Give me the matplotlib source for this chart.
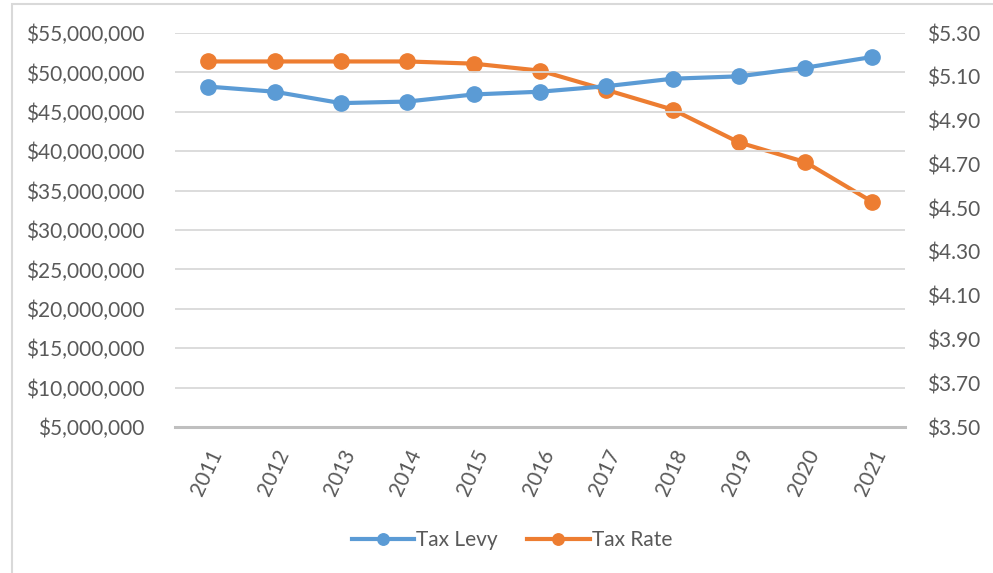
import matplotlib.pyplot as plt
from matplotlib.patches import Rectangle
from matplotlib.ticker import FuncFormatter

plt.rcParams['font.family'] = ['Lato', 'DejaVu Sans']

years = ['2011', '2012', '2013', '2014', '2015', '2016', '2017', '2018', '2019', '2020', '2021']
tax_levy = [48.2e6, 47.55e6, 46.1e6, 46.3e6, 47.2e6, 47.55e6, 48.25e6, 49.2e6, 49.5e6, 50.6e6, 51.95e6]
tax_rate = [5.17, 5.17, 5.17, 5.17, 5.16, 5.128, 5.04, 4.95, 4.80, 4.71, 4.53]

blue = '#5B9BD5'
orange = '#ED7D31'
grey_text = '#595959'

fig = plt.figure(figsize=(9.93, 5.73), dpi=100)
W, H = 993, 573
ax = fig.add_axes([175 / W, 1 - 427 / H, 730 / W, 394 / H])
ax2 = ax.twinx()

# chart border
fig.patches.append(Rectangle((12 / W, -0.01), 1.0, 1 - 4 / H + 0.01, transform=fig.transFigure,
                             fill=False, edgecolor='#d9d9d9', linewidth=1.5))

x = range(len(years))
l1, = ax.plot(x, tax_levy, color=blue, lw=3, marker='o', ms=11, label='Tax Levy', zorder=3)
l2, = ax2.plot(x, tax_rate, color=orange, lw=3, marker='o', ms=11, label='Tax Rate', zorder=3)

ax.set_xlim(-0.5, len(years) - 0.5)
ax.set_ylim(5e6, 55e6)
ax.set_yticks(range(5000000, 55000001, 5000000))
ax.yaxis.set_major_formatter(FuncFormatter(lambda v, p: f'${v:,.0f}'))
ax2.set_ylim(3.5, 5.3)
ax2.set_yticks([3.5, 3.7, 3.9, 4.1, 4.3, 4.5, 4.7, 4.9, 5.1, 5.3])
ax2.yaxis.set_major_formatter(FuncFormatter(lambda v, p: f'${v:.2f}'))

ax.grid(axis='y', color='#d9d9d9', lw=1.3)
ax.set_axisbelow(True)
for a in (ax, ax2):
    for s in a.spines.values():
        s.set_visible(False)
    a.tick_params(length=0, labelsize=15, labelcolor=grey_text)
ax.spines['bottom'].set_visible(True)
ax.spines['bottom'].set_color('#bfbfbf')
ax.spines['bottom'].set_linewidth(2.2)
ax.tick_params(axis='y', pad=22)
ax2.tick_params(axis='y', pad=16)

ax.set_xticks(list(x))
ax.set_xticklabels(years, rotation=65, ha='right', va='top', rotation_mode='anchor')
ax.tick_params(axis='x', pad=14)

ax.set_zorder(ax2.get_zorder() + 1)
ax.patch.set_visible(False)

fig.legend(handles=[l1, l2], loc='center', bbox_to_anchor=(512 / W, 1 - 540 / H), ncol=2,
           frameon=False, fontsize=15, labelcolor=grey_text, handlelength=3,
           handletextpad=0.1, columnspacing=1.4, markerscale=0.75)

fig.savefig('out.png', dpi=100)
